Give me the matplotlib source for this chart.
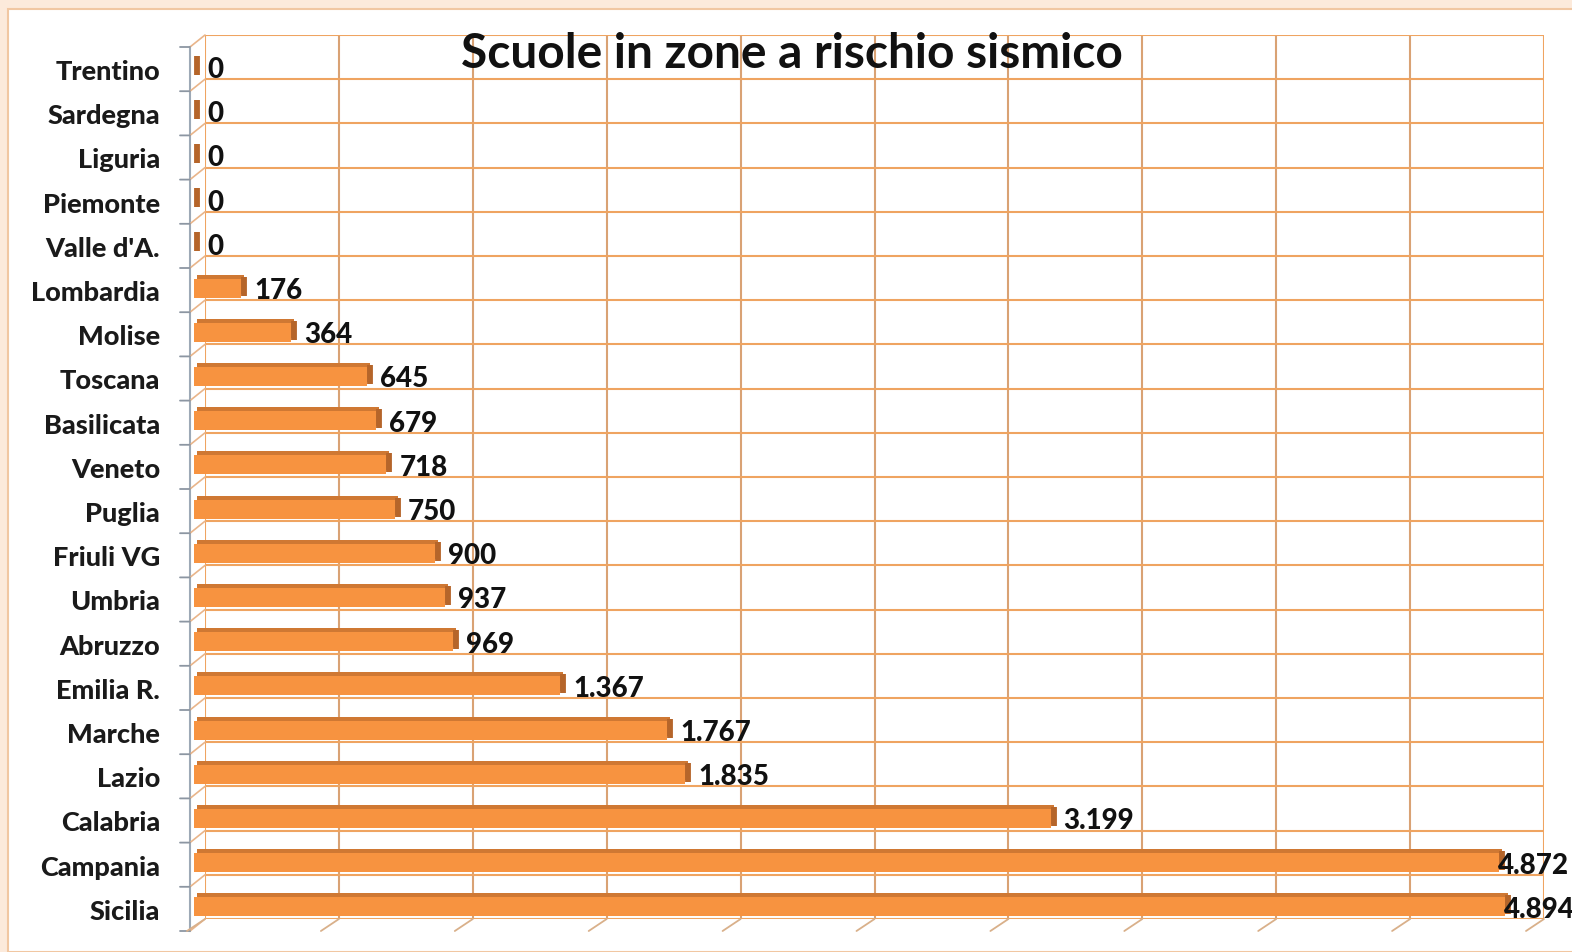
import matplotlib
matplotlib.use("Agg")
import matplotlib.pyplot as plt
from matplotlib.transforms import offset_copy, blended_transform_factory
from matplotlib.patches import Rectangle

# === Data ===
regions = ["Trentino", "Sardegna", "Liguria", "Piemonte", "Valle d'A.",
           "Lombardia", "Molise", "Toscana", "Basilicata", "Veneto",
           "Puglia", "Friuli VG", "Umbria", "Abruzzo", "Emilia R.",
           "Marche", "Lazio", "Calabria", "Campania", "Sicilia"]
schools = [0, 0, 0, 0, 0, 176, 364, 645, 679, 718, 750, 900, 937, 969,
           1367, 1767, 1835, 3199, 4872, 4894]
x_ticks = list(range(0, 5001, 500))

TITLE = "Scuole in zone a rischio sismico"
FONT = "Lato"
BAR = "#F79340"
BAR_TOP = "#CF7833"
BAR_END = "#B5652A"
GRID = "#EFA461"
VGRID = "#D9A274"

fig = plt.figure(figsize=(15.72, 9.53), dpi=100)
fig.patch.set_facecolor("#FCEADB")
# white card with a thin border
fig.patches.append(Rectangle((8 / 1572, 0), 1, 1 - 10 / 953, transform=fig.transFigure,
                             facecolor="white", edgecolor="#F1C7A2", linewidth=1.5, zorder=-10))

ax = fig.add_axes([205 / 1572, 1 - 920 / 953, 1339 / 1572, 884 / 953])
ax.set_facecolor("none")
ypos = list(range(len(regions)))
ax.set_xlim(0, 5000)
ax.set_ylim(len(regions) - 0.5, -0.5)
for s in ax.spines.values():
    s.set_visible(False)
ax.set_xticks([])
ax.set_yticks([])

# back wall grid
for xv in x_ticks:
    ax.axvline(xv, color=VGRID if 0 < xv < 5000 else GRID, lw=1.5, zorder=1)
for k in range(len(regions) + 1):
    ax.axhline(k - 0.5, color=GRID, lw=1.5, zorder=1)

# side wall and floor depth lines (3D look)
DX, DY = -15, -12
front = offset_copy(ax.transData, fig=fig, x=DX, y=DY, units="dots")
ax.plot([0, 0], [-0.5, len(regions) - 0.5], color="#9DA9B6", lw=1.5,
        transform=front, clip_on=False, zorder=2)
for k in range(len(regions) + 1):
    yb = k - 0.5
    ax.annotate("", xy=(0, yb), xytext=(DX, DY), textcoords="offset pixels",
                arrowprops=dict(arrowstyle="-", color="#E9B58A", lw=1.2, shrinkA=0, shrinkB=0),
                annotation_clip=False)
    ax.annotate("", xy=(0, yb), xycoords=front, xytext=(-10, 0), textcoords="offset pixels",
                arrowprops=dict(arrowstyle="-", color="#8C96A2", lw=1.3, shrinkA=0, shrinkB=0),
                annotation_clip=False)
for xv in x_ticks:
    ax.annotate("", xy=(xv, len(regions) - 0.5), xytext=(-18, -12), textcoords="offset pixels",
                arrowprops=dict(arrowstyle="-", color="#D9B08A", lw=1.3, shrinkA=0, shrinkB=0),
                annotation_clip=False)

# bars: top strip, front face, end face
BH = 0.43
bar_tr = offset_copy(ax.transData, fig=fig, x=-11, y=-10, units="dots")
top_tr = offset_copy(ax.transData, fig=fig, x=-8, y=-6, units="dots")
ax.barh(ypos, schools, height=BH, color=BAR_TOP, transform=top_tr, zorder=3, clip_on=False)
ax.barh(ypos, schools, height=BH, color=BAR, transform=bar_tr, zorder=4, clip_on=False)
end_tr = offset_copy(ax.transData, fig=fig, x=-8, y=-8, units="dots")
for y, v in zip(ypos, schools):
    ax.add_patch(Rectangle((v, y - BH / 2), 0, BH, transform=end_tr, zorder=5, clip_on=False,
                           edgecolor=BAR_END, facecolor=BAR_END, lw=4.2))

# value labels
for y, v in zip(ypos, schools):
    txt = f"{v:,}".replace(",", ".")
    dx = 2 if v < 4500 else -12
    lab_tr = offset_copy(ax.transData, fig=fig, x=dx, y=-12, units="dots")
    ax.text(v, y, txt, transform=lab_tr, ha="left", va="center", fontsize=20,
            fontweight="black", family=FONT, color="#111111", zorder=6, clip_on=False)

# category labels, aligned with the front of the bars
cat_tr = offset_copy(blended_transform_factory(ax.transAxes, ax.transData),
                     fig=fig, x=0, y=-14, units="dots")
for y, name in zip(ypos, regions):
    ax.text(-0.0336, y, name, transform=cat_tr, ha="right", va="center", fontsize=19.5,
            fontweight="black", family=FONT, color="#1a1a1a", clip_on=False)

fig.text(792 / 1572, 1 - 54 / 953, TITLE, ha="center", va="center", fontsize=34.5,
         fontweight="bold", family=FONT, color="#111111", zorder=10)

fig.savefig("out.png", dpi=100, facecolor=fig.get_facecolor())
